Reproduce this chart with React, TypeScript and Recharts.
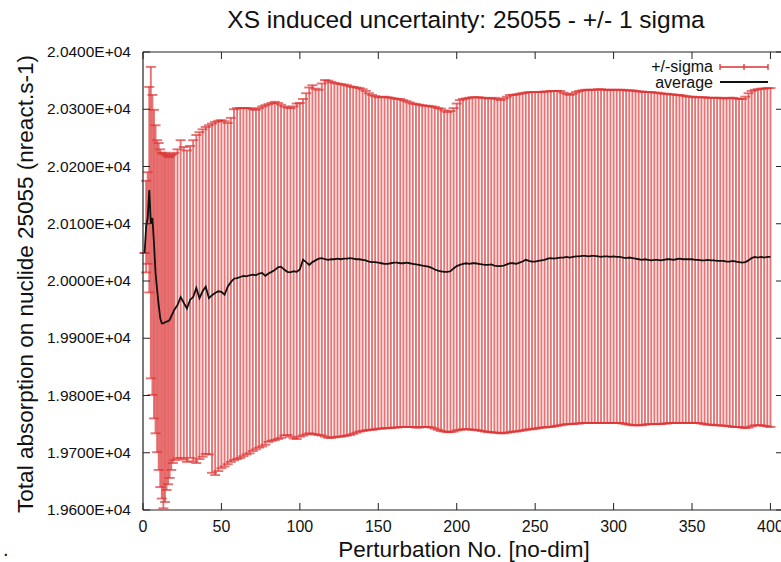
import { ComposedChart, Line, ErrorBar, XAxis, YAxis, ReferenceLine } from 'recharts';

// perturbation number for each sample
const perturbation = [
  1, 2, 3, 4, 5, 6, 7, 8, 9, 10, 11, 12, 13, 14, 15, 16, 17, 18, 19, 20,
  22, 24, 26, 28, 30, 32, 34, 36, 38, 40,
  42, 44, 46, 48, 50, 52, 54, 56, 58, 60,
  62, 64, 66, 68, 70, 72, 74, 76, 78, 80,
  82, 84, 86, 88, 90, 92, 94, 96, 98, 100,
  102, 104, 106, 108, 110, 112, 114, 116, 118, 120,
  122, 124, 126, 128, 130, 132, 134, 136, 138, 140,
  142, 144, 146, 148, 150, 152, 154, 156, 158, 160,
  162, 164, 166, 168, 170, 172, 174, 176, 178, 180,
  182, 184, 186, 188, 190, 192, 194, 196, 198, 200,
  202, 204, 206, 208, 210, 212, 214, 216, 218, 220,
  222, 224, 226, 228, 230, 232, 234, 236, 238, 240,
  242, 244, 246, 248, 250, 252, 254, 256, 258, 260,
  262, 264, 266, 268, 270, 272, 274, 276, 278, 280,
  282, 284, 286, 288, 290, 292, 294, 296, 298, 300,
  302, 304, 306, 308, 310, 312, 314, 316, 318, 320,
  322, 324, 326, 328, 330, 332, 334, 336, 338, 340,
  342, 344, 346, 348, 350, 352, 354, 356, 358, 360,
  362, 364, 366, 368, 370, 372, 374, 376, 378, 380,
  382, 384, 386, 388, 390, 392, 394, 396, 398, 400,
];

const average = [
  20049, 20095, 20110, 20159, 20100, 20110, 20066, 20014, 19985, 19958,
  19935, 19926, 19926, 19928, 19929, 19930, 19932, 19938, 19944, 19950,
  19958, 19972, 19962, 19952, 19967, 19972, 19988, 19970, 19982, 19990,
  19970, 19975, 19979, 19982, 19981, 19976, 19990, 19998, 20004, 20005,
  20007, 20009, 20008, 20010, 20011, 20010, 20013, 20014, 20009, 20013,
  20016, 20019, 20024, 20025, 20020, 20016, 20015, 20017, 20016, 20020,
  20037, 20033, 20028, 20033, 20036, 20039, 20040, 20038, 20037, 20038,
  20038, 20039, 20038, 20039, 20039, 20040, 20039, 20038, 20038, 20037,
  20036, 20034, 20033, 20033, 20032, 20031, 20030, 20030, 20031, 20032,
  20032, 20031, 20031, 20032, 20031, 20030, 20029, 20028, 20027, 20026,
  20025, 20023, 20020, 20018, 20017, 20016, 20016, 20017, 20022, 20026,
  20028, 20030, 20031, 20030, 20031, 20031, 20030, 20029, 20028, 20028,
  20029, 20027, 20026, 20026, 20027, 20029, 20031, 20031, 20030, 20032,
  20034, 20037, 20035, 20034, 20034, 20035, 20036, 20037, 20039, 20040,
  20039, 20040, 20041, 20041, 20042, 20041, 20042, 20043, 20043, 20044,
  20044, 20043, 20044, 20044, 20043, 20042, 20043, 20043, 20042, 20043,
  20042, 20042, 20041, 20040, 20041, 20040, 20039, 20038, 20037, 20038,
  20037, 20036, 20037, 20037, 20036, 20037, 20038, 20038, 20037, 20038,
  20039, 20038, 20038, 20038, 20038, 20037, 20037, 20036, 20036, 20037,
  20036, 20036, 20035, 20035, 20035, 20034, 20034, 20035, 20034, 20033,
  20032, 20033, 20036, 20040, 20042, 20041, 20042, 20041, 20042, 20042,
];

const upper = [
  20049, 20175, 20190, 20339, 20374, 20325, 20299, 20272, 20246, 20241,
  20230, 20224, 20222, 20224, 20220, 20217, 20217, 20220, 20222, 20224,
  20230, 20246, 20234, 20228, 20236, 20246, 20255, 20260, 20265, 20269,
  20272, 20275, 20278, 20280, 20281, 20279, 20276, 20285, 20300, 20302,
  20302, 20302, 20302, 20302, 20300, 20299, 20302, 20305, 20307, 20309,
  20311, 20313, 20311, 20308, 20305, 20303, 20302, 20305, 20310, 20311,
  20318, 20328, 20338, 20342, 20336, 20334, 20345, 20351, 20350, 20348,
  20346, 20345, 20344, 20343, 20342, 20340, 20339, 20338, 20337, 20335,
  20332, 20328, 20325, 20323, 20321, 20321, 20322, 20321, 20320, 20319,
  20318, 20318, 20316, 20314, 20312, 20310, 20309, 20308, 20307, 20306,
  20306, 20305, 20304, 20302, 20301, 20298, 20295, 20297, 20302, 20310,
  20316, 20318, 20319, 20320, 20321, 20321, 20321, 20320, 20320, 20319,
  20319, 20320, 20318, 20316, 20319, 20322, 20325, 20325, 20326, 20327,
  20328, 20329, 20330, 20330, 20330, 20330, 20330, 20331, 20331, 20332,
  20332, 20332, 20332, 20329, 20327, 20325, 20327, 20330, 20332, 20333,
  20334, 20334, 20334, 20334, 20335, 20335, 20334, 20334, 20334, 20334,
  20334, 20334, 20334, 20333, 20333, 20333, 20332, 20331, 20331, 20330,
  20330, 20330, 20329, 20329, 20328, 20327, 20327, 20326, 20326, 20325,
  20325, 20324, 20323, 20322, 20322, 20321, 20321, 20321, 20321, 20320,
  20320, 20320, 20320, 20320, 20319, 20319, 20320, 20320, 20319, 20318,
  20318, 20322, 20328, 20332, 20334, 20335, 20336, 20336, 20337, 20337,
];

const lower = [
  20049, 20015, 20030, 19980, 19830, 19801, 19760, 19734, 19701, 19670,
  19640, 19620, 19603, 19614, 19635, 19645, 19656, 19670, 19682, 19687,
  19690, 19691, 19688, 19684, 19691, 19685, 19682, 19689, 19693, 19698,
  19697, 19665, 19661, 19668, 19673, 19676, 19680, 19684, 19687, 19689,
  19691, 19694, 19697, 19699, 19703, 19706, 19709, 19711, 19714, 19719,
  19721, 19722, 19724, 19726, 19730, 19731, 19728, 19725, 19724, 19728,
  19730, 19732, 19734, 19733, 19732, 19731, 19730, 19728, 19726, 19726,
  19727, 19728, 19728, 19729, 19730, 19731, 19733, 19735, 19737, 19738,
  19739, 19740, 19740, 19741, 19742, 19742, 19743, 19743, 19743, 19744,
  19744, 19745, 19745, 19745, 19745, 19745, 19744, 19744, 19745, 19745,
  19745, 19744, 19742, 19740, 19738, 19737, 19736, 19736, 19737, 19739,
  19740, 19741, 19741, 19741, 19740, 19740, 19739, 19738, 19737, 19736,
  19736, 19735, 19735, 19734, 19734, 19735, 19736, 19737, 19737, 19738,
  19739, 19740, 19741, 19741, 19742, 19743, 19744, 19744, 19745, 19745,
  19746, 19747, 19748, 19749, 19750, 19750, 19750, 19751, 19751, 19752,
  19752, 19752, 19752, 19752, 19752, 19752, 19752, 19752, 19752, 19752,
  19752, 19752, 19751, 19750, 19749, 19748, 19748, 19748, 19748, 19749,
  19750, 19750, 19750, 19750, 19750, 19751, 19751, 19752, 19752, 19752,
  19752, 19752, 19752, 19752, 19752, 19752, 19752, 19751, 19750, 19749,
  19749, 19748, 19748, 19748, 19747, 19747, 19746, 19745, 19745, 19745,
  19744, 19743, 19744, 19746, 19748, 19748, 19748, 19747, 19746, 19745,
];

const xTicks = [0, 50, 100, 150, 200, 250, 300, 350, 400];
const yTicks = [19600, 19700, 19800, 19900, 20000, 20100, 20200, 20300, 20400];

const FONT = '"Liberation Sans", Arial, Helvetica, sans-serif';
const PLOT_TOP = 52;
const PLOT_RIGHT = 783;
const AXIS = '#222';
const RED = '#dc3232';

const data = perturbation.map((n, i) => ({
  n,
  avg: average[i],
  err: [average[i] - lower[i], upper[i] - average[i]],
}));

const fmtY = (v: number) => (v / 10000).toFixed(4) + 'E+04';

const XTick = (props: any) => {
  const { x, y, payload } = props;
  return (
    <g>
      <line x1={x} y1={y} x2={x} y2={y - 7} stroke={AXIS} />
      <line x1={x} y1={PLOT_TOP} x2={x} y2={PLOT_TOP + 7} stroke={AXIS} />
      <text x={x} y={y + 22} textAnchor="middle" fontSize={16} fontFamily={FONT} fill="#111">
        {payload.value}
      </text>
    </g>
  );
};

const YTick = (props: any) => {
  const { x, y, payload } = props;
  return (
    <g>
      <line x1={x} y1={y} x2={x + 7} y2={y} stroke={AXIS} />
      <line x1={PLOT_RIGHT - 7} y1={y} x2={PLOT_RIGHT} y2={y} stroke={AXIS} />
      <text x={x - 12} y={y + 5} textAnchor="end" fontSize={15.5} fontFamily={FONT} fill="#111">
        {fmtY(payload.value)}
      </text>
    </g>
  );
};

const App = () => {
  return (
    <div style={{ position: 'absolute', left: 0, top: 0, width: 781, height: 562, overflow: 'hidden', background: '#fff' }}>
      <ComposedChart width={783} height={562} data={data} margin={{ top: PLOT_TOP, right: 0, bottom: 0, left: 0 }}>
        <XAxis
          dataKey="n"
          type="number"
          domain={[0, 408]}
          ticks={xTicks}
          height={52}
          tickSize={0}
          tickMargin={0}
          tickLine={false}
          tick={<XTick />}
          axisLine={{ stroke: AXIS, strokeWidth: 1.2 }}
          allowDataOverflow
        />
        <YAxis
          type="number"
          domain={[19600, 20400]}
          ticks={yTicks}
          width={143}
          tickSize={0}
          tickMargin={0}
          tickLine={false}
          tick={<YTick />}
          axisLine={{ stroke: AXIS, strokeWidth: 1.2 }}
          allowDataOverflow
        />
        <ReferenceLine y={20400} stroke={AXIS} strokeWidth={1.2} />
        <Line dataKey="avg" stroke="none" dot={false} isAnimationActive={false}>
          <ErrorBar
            dataKey="err"
            width={5}
            stroke={RED}
            strokeWidth={1.9}
            strokeOpacity={0.68}
            direction="y"
            isAnimationActive={false}
          />
        </Line>
        <Line dataKey="avg" stroke="#111" strokeWidth={1.8} dot={false} isAnimationActive={false} />
      </ComposedChart>
      <svg width={781} height={562} style={{ position: 'absolute', left: 0, top: 0, pointerEvents: 'none' }}>
        <text x={466} y={28} textAnchor="middle" fontSize={24.5} fontFamily={FONT} fill="#111">
          XS induced uncertainty: 25055 - +/- 1 sigma
        </text>
        <text
          x={0}
          y={0}
          transform="translate(33, 284) rotate(-90)"
          textAnchor="middle"
          fontSize={22.5}
          fontFamily={FONT}
          fill="#111"
        >
          Total absorption on nuclide 25055 (nreact.s-1)
        </text>
        <text x={464} y={557} textAnchor="middle" fontSize={22.5} fontFamily={FONT} fill="#111">
          Perturbation No. [no-dim]
        </text>
        <text x={3} y={556} fontSize={20} fontFamily={FONT} fill="#111">.</text>
        <text x={713} y={72} textAnchor="end" fontSize={16} fontFamily={FONT} fill="#111">+/-sigma</text>
        <line x1={720} y1={67} x2={768} y2={67} stroke={RED} strokeWidth={1.3} />
        <line x1={720} y1={64} x2={720} y2={70} stroke={RED} strokeWidth={1.3} />
        <line x1={744} y1={64} x2={744} y2={70} stroke={RED} strokeWidth={1.3} />
        <line x1={768} y1={64} x2={768} y2={70} stroke={RED} strokeWidth={1.3} />
        <text x={713} y={88} textAnchor="end" fontSize={16} fontFamily={FONT} fill="#111">average</text>
        <line x1={720} y1={82} x2={768} y2={82} stroke="#111" strokeWidth={2} />
      </svg>
    </div>
  );
};

export default App;
